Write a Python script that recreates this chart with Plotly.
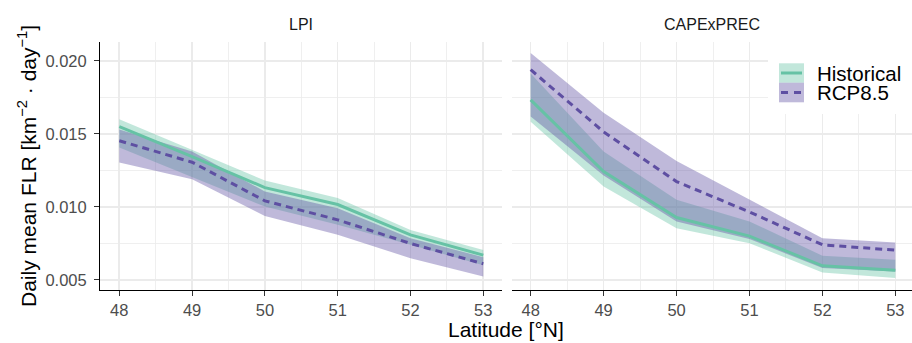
import plotly.graph_objects as go

# ---------------- data ----------------
latitude = [48, 49, 50, 51, 52, 53]
x_ticks = [48, 49, 50, 51, 52, 53]
y_ticks = [0.005, 0.010, 0.015, 0.020]
panels = ["LPI", "CAPExPREC"]
scenarios = ["Historical", "RCP8.5"]

lpi_hist_mean = [0.01550, 0.01345, 0.01132, 0.01016, 0.00808, 0.00669]
lpi_hist_lo = [0.01406, 0.01203, 0.01002, 0.00877, 0.00740, 0.00600]
lpi_hist_hi = [0.01600, 0.01392, 0.01180, 0.01060, 0.00842, 0.00705]
lpi_rcp_mean = [0.01453, 0.01306, 0.01041, 0.00911, 0.00749, 0.00610]
lpi_rcp_lo = [0.01304, 0.01190, 0.00938, 0.00808, 0.00648, 0.00523]
lpi_rcp_hi = [0.01530, 0.01380, 0.01105, 0.00990, 0.00785, 0.00655]

cape_hist_mean = [0.01733, 0.01242, 0.00927, 0.00799, 0.00596, 0.00566]
cape_hist_lo = [0.01584, 0.01139, 0.00854, 0.00751, 0.00550, 0.00512]
cape_hist_hi = [0.01914, 0.01379, 0.01048, 0.00900, 0.00664, 0.00637]
cape_rcp_mean = [0.01940, 0.01514, 0.01173, 0.00965, 0.00740, 0.00703]
cape_rcp_lo = [0.01619, 0.01215, 0.00900, 0.00779, 0.00580, 0.00557]
cape_rcp_hi = [0.02055, 0.01645, 0.01315, 0.01048, 0.00785, 0.00756]

# ---------------- style ----------------
W, H = 912, 343
ML, MR, MT, MB = 100, 0, 42, 53
PW = W - ML - MR
PH = H - MT - MB

GREEN = "#66C2A5"
PURPLE = "#5E4FA2"
GREEN_FILL = "rgba(102,194,165,0.4)"
PURPLE_FILL = "rgba(94,79,162,0.4)"
GRID = "#EBEBEB"
FONT = "Liberation Sans, Arial, sans-serif"


def px_x(p):
    return (p - ML) / PW


def px_y(p):
    return (MT + PH - p) / PH


fig = go.Figure()

panel_data = [
    ("x", "y", lpi_hist_mean, lpi_hist_lo, lpi_hist_hi, lpi_rcp_mean, lpi_rcp_lo, lpi_rcp_hi),
    ("x2", "y2", cape_hist_mean, cape_hist_lo, cape_hist_hi, cape_rcp_mean, cape_rcp_lo, cape_rcp_hi),
]

for xa, ya, hm, hl, hh, rm, rl, rh in panel_data:
    # ribbons
    for lo, hi, col in [(hl, hh, GREEN_FILL), (rl, rh, PURPLE_FILL)]:
        fig.add_trace(go.Scatter(
            x=latitude + latitude[::-1], y=hi + lo[::-1],
            fill="toself", fillcolor=col, line=dict(width=0),
            mode="lines", xaxis=xa, yaxis=ya, showlegend=False, hoverinfo="skip"))
    # mean lines
    fig.add_trace(go.Scatter(
        x=latitude, y=hm, mode="lines", line=dict(color=GREEN, width=3),
        xaxis=xa, yaxis=ya, showlegend=False, hoverinfo="skip"))
    fig.add_trace(go.Scatter(
        x=latitude, y=rm, mode="lines", line=dict(color=PURPLE, width=3, dash="7px,5px"),
        xaxis=xa, yaxis=ya, showlegend=False, hoverinfo="skip"))

y_range = [0.0043, 0.0213]
common_x = dict(
    tickvals=x_ticks, ticks="outside", ticklen=5, tickcolor="#333333", tickwidth=1,
    tickfont=dict(family=FONT, size=16.5, color="#4D4D4D"),
    showgrid=True, gridcolor=GRID, gridwidth=1.6,
    minor=dict(dtick=0.5, tick0=48, showgrid=True, gridcolor=GRID, gridwidth=0.8),
    showline=True, linecolor="black", linewidth=1, zeroline=False,
)
common_y = dict(
    range=y_range, tickvals=y_ticks, showgrid=True, gridcolor=GRID, gridwidth=1.6,
    minor=dict(dtick=0.0025, tick0=0.005, showgrid=True, gridcolor=GRID, gridwidth=0.8),
    zeroline=False,
)

fig.update_layout(
    width=W, height=H,
    margin=dict(l=ML, r=MR, t=MT, b=MB, pad=0),
    paper_bgcolor="white", plot_bgcolor="white",
    showlegend=False,
    xaxis=dict(domain=[0, 402 / PW], range=[47.735, 53.257], anchor="y", **common_x),
    xaxis2=dict(domain=[412 / PW, 1], range=[47.744, 53.228], anchor="y2", **common_x),
    yaxis=dict(anchor="x", ticks="outside", ticklen=5, tickcolor="#333333", tickwidth=1,
               ticklabelstandoff=4,
               tickformat=".3f", tickfont=dict(family=FONT, size=16.5, color="#4D4D4D"),
               showline=True, linecolor="black", linewidth=1, **common_y),
    yaxis2=dict(anchor="x2", matches="y", showticklabels=False, ticks="", showline=False, **common_y),
)

annotations = []
# strip titles
for name, cx in [(panels[0], (100 + 502) / 2), (panels[1], (512 + 912) / 2)]:
    annotations.append(dict(text=name, x=px_x(cx), y=px_y(25), xref="paper", yref="paper",
                            showarrow=False, xanchor="center", yanchor="middle",
                            font=dict(family=FONT, size=16, color="#1A1A1A")))
# axis titles
annotations.append(dict(text="Latitude [°N]", x=px_x(506), y=px_y(329), xref="paper", yref="paper",
                        showarrow=False, xanchor="center", yanchor="middle",
                        font=dict(family=FONT, size=21, color="black")))
annotations.append(dict(text="Daily mean FLR [km<sup>−2</sup> · day<sup>−1</sup>]",
                        x=px_x(27), y=px_y(166), xref="paper", yref="paper", textangle=-90,
                        showarrow=False, xanchor="center", yanchor="middle",
                        font=dict(family=FONT, size=21, color="black")))

# legend (drawn manually)
shapes = []
shapes.append(dict(type="rect", xref="paper", yref="paper",
                   x0=px_x(768), x1=px_x(912), y0=px_y(114), y1=px_y(42),
                   fillcolor="white", line=dict(width=0), layer="above"))
legend_items = [
    (scenarios[0], GREEN_FILL, GREEN, "solid", 63.3, 82.7),
    (scenarios[1], PURPLE_FILL, PURPLE, "7px,6px", 82.7, 102.3),
]
for label, fcol, lcol, dash, top, bot in legend_items:
    shapes.append(dict(type="rect", xref="paper", yref="paper",
                       x0=px_x(779), x1=px_x(804), y0=px_y(bot), y1=px_y(top),
                       fillcolor=fcol, line=dict(width=0), layer="above"))
    mid = (top + bot) / 2
    shapes.append(dict(type="line", xref="paper", yref="paper",
                       x0=px_x(781), x1=px_x(802), y0=px_y(mid), y1=px_y(mid),
                       line=dict(color=lcol, width=3, dash=dash), layer="above"))
    annotations.append(dict(text=label, x=px_x(815), y=px_y(mid), xref="paper", yref="paper",
                            showarrow=False, xanchor="left", yanchor="middle",
                            font=dict(family=FONT, size=20.5, color="black")))

fig.update_layout(annotations=annotations, shapes=shapes)

fig.write_html(
    "out.html",
    config={"displayModeBar": False, "staticPlot": True},
    post_script="document.body.style.margin='0';document.body.style.overflow='hidden';",
)
